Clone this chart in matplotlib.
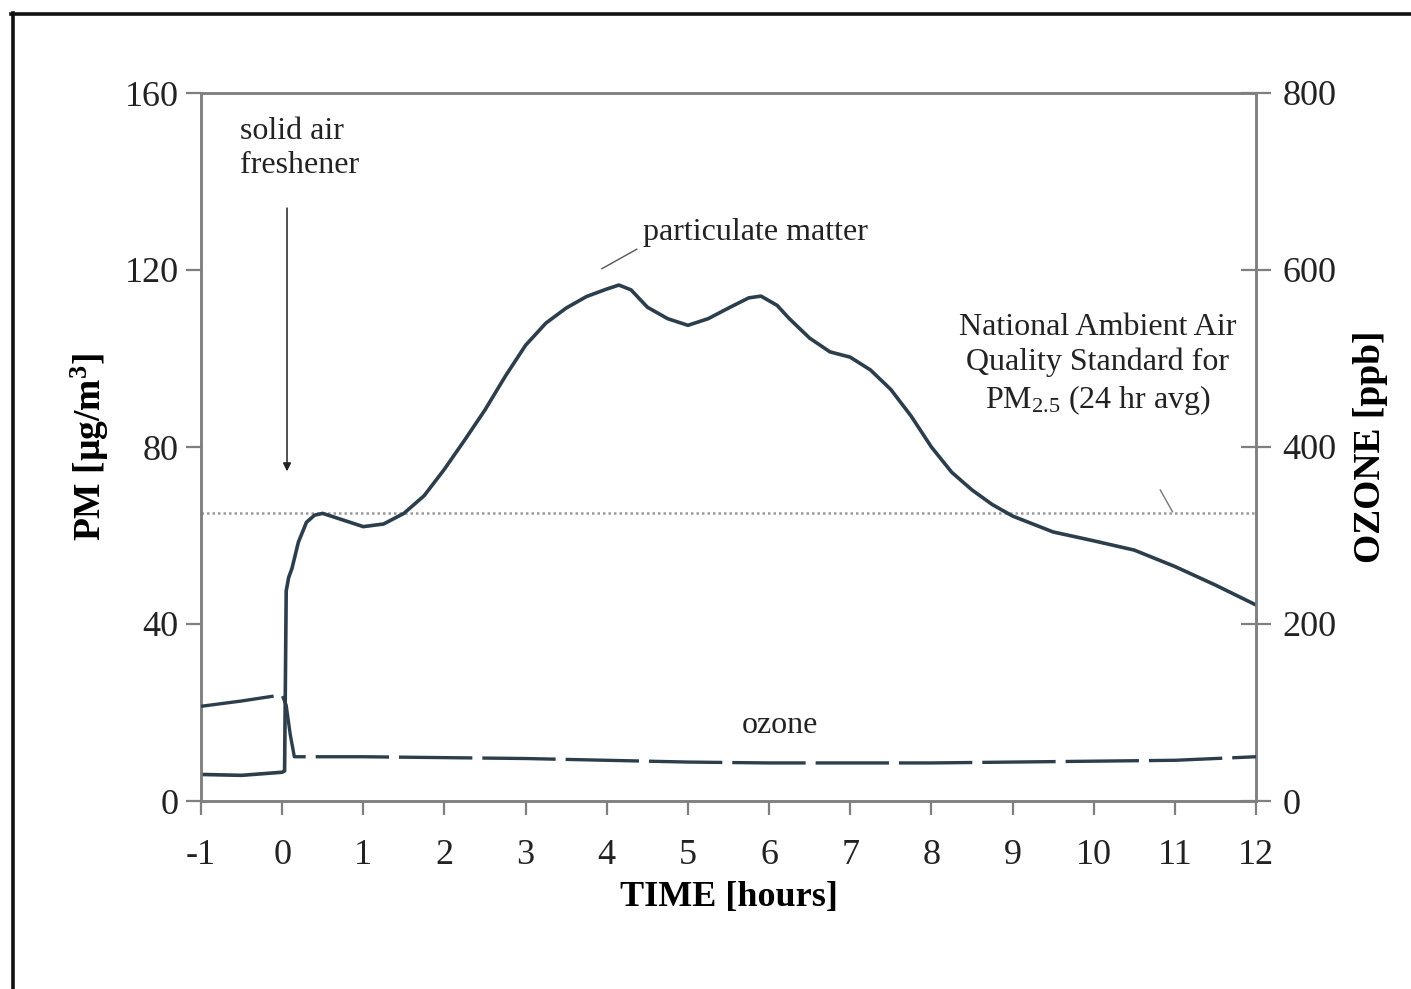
import matplotlib
matplotlib.use("Agg")
import matplotlib.pyplot as plt
from matplotlib.lines import Line2D

plt.rcParams['font.family'] = ['Liberation Serif', 'DejaVu Serif']
plt.rcParams['mathtext.fontset'] = 'custom'
plt.rcParams['mathtext.rm'] = 'Liberation Serif'
plt.rcParams['mathtext.it'] = 'Liberation Serif:italic'
plt.rcParams['mathtext.bf'] = 'Liberation Serif:bold'

# ---- data ----
pm_time = [-1, -0.5, 0, 0.03, 0.05, 0.08, 0.12, 0.2, 0.3, 0.4, 0.5, 0.75, 1.0, 1.25,
           1.5, 1.75, 2.0, 2.25, 2.5, 2.75, 3.0, 3.25, 3.5, 3.75, 4.0, 4.15, 4.3, 4.5,
           4.75, 5.0, 5.25, 5.5, 5.75, 5.9, 6.1, 6.25, 6.5, 6.75, 7.0, 7.25, 7.5, 7.75,
           8.0, 8.25, 8.5, 8.75, 9.0, 9.5, 10.0, 10.5, 11.0, 11.5, 12.0]
pm_values = [6.0, 5.8, 6.5, 6.8, 47.5, 50.5, 52.5, 58.5, 63.0, 64.6, 65.0, 63.5, 62.0, 62.6,
             65.0, 69.0, 75.0, 81.6, 88.4, 96.0, 103.0, 108.0, 111.4, 114.0, 115.7, 116.6, 115.5, 111.6,
             109.0, 107.5, 109.0, 111.4, 113.7, 114.1, 112.0, 109.0, 104.6, 101.5, 100.3, 97.4, 93.0, 87.0,
             80.0, 74.3, 70.3, 67.0, 64.4, 60.8, 58.8, 56.7, 53.0, 48.8, 44.3]

ozone_time = [-1, -0.5, 0, 0.05, 0.1, 0.15, 0.3, 1, 2, 3, 4, 5, 6, 7, 8, 9, 10, 11, 12]
ozone_values = [107, 113, 120, 108, 75, 50, 50, 50, 49, 48, 46, 44, 43, 43, 43, 44, 45, 46, 50]

naaqs_pm25 = 65

x_ticks = list(range(-1, 13))
pm_ticks = [0, 40, 80, 120, 160]
ozone_ticks = [0, 200, 400, 600, 800]

# ---- figure ----
W, H = 1411, 989
fig = plt.figure(figsize=(W / 100, H / 100), dpi=100)
ax = fig.add_axes([201 / W, 1 - 801 / H, (1256 - 201) / W, (801 - 93) / H])
ax2 = ax.twinx()

line_col = '#2c3e4c'
spine_col = '#7f7f7f'
txt_col = '#222222'

ax.plot(pm_time, pm_values, color=line_col, lw=2.6, zorder=3)
ax2.plot(ozone_time, ozone_values, color=line_col, lw=2.4, dashes=(22, 3), zorder=3)
ax.axhline(naaqs_pm25, color='#9a9a9a', lw=1.8, ls=(0, (1, 1.2)), zorder=2)

ax.set_xlim(-1, 12)
ax.set_ylim(0, 160)
ax2.set_ylim(0, 800)
ax.set_xticks(x_ticks)
ax.set_xticklabels([str(t) for t in x_ticks])
ax.set_yticks(pm_ticks)
ax2.set_yticks(ozone_ticks)

for a in (ax, ax2):
    for s in a.spines.values():
        s.set_color(spine_col)
        s.set_linewidth(1.8)

ax.tick_params(axis='x', direction='out', length=10, width=1.6, color=spine_col,
               labelsize=26, pad=17, labelcolor=txt_col)
ax.tick_params(axis='y', direction='out', length=11, width=1.6, color=spine_col,
               labelsize=26, pad=5, labelcolor=txt_col)
ax2.tick_params(axis='y', direction='inout', length=22, width=1.6, color=spine_col,
                labelsize=26, pad=8, labelcolor=txt_col)

ax.set_xlabel('TIME [hours]', fontsize=26, fontweight='bold', labelpad=7)
ax.set_ylabel('PM [µg/m$^\\mathbf{3}$]', fontsize=27, fontweight='bold', labelpad=10)
ax2.set_ylabel('OZONE [ppb]', fontsize=27, fontweight='bold', labelpad=12)

# annotations
ax.text(-0.52, 147.5, 'solid air\nfreshener', fontsize=23, ha='left', va='center',
        linespacing=1.2, color=txt_col)
ax.annotate('', xy=(0.06, 74.5), xytext=(0.06, 134),
            arrowprops=dict(arrowstyle='-|>', color=txt_col, lw=1.1,
                            mutation_scale=12, shrinkA=0, shrinkB=0))
ax.text(4.45, 128.5, 'particulate matter', fontsize=23, ha='left', va='center',
        color=txt_col)
ax.plot([3.94, 4.37], [120.3, 124.7], color='#555555', lw=1.0)
ax.text(10.05, 98.5, 'National Ambient Air\nQuality Standard for\nPM$_{2.5}$ (24 hr avg)',
        fontsize=23, ha='center', va='center', linespacing=1.25, color=txt_col)
ax.plot([10.82, 10.97], [70.3, 65.4], color='#777777', lw=1.0)
ax.text(6.13, 17.0, 'ozone', fontsize=23, ha='center', va='center', color=txt_col)

# outer frame (left and top edges visible)
fig.add_artist(Line2D([12.5 / W, 12.5 / W], [0, 1 - 13 / H], color='#111111', lw=2.6,
                      transform=fig.transFigure))
fig.add_artist(Line2D([11 / W, 1], [1 - 13.5 / H, 1 - 13.5 / H], color='#111111', lw=2.6,
                      transform=fig.transFigure))

fig.savefig('out.png', dpi=100)
